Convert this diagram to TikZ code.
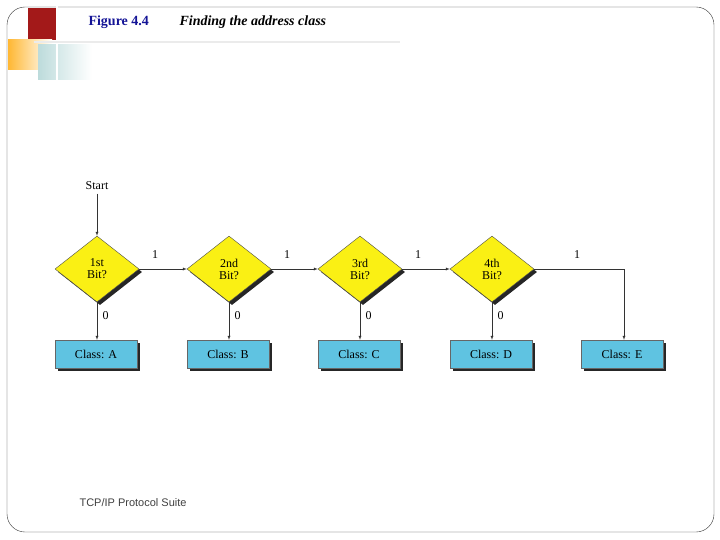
\documentclass[tikz,border=0pt]{standalone}
\usepackage{fontspec}
\setmainfont{Liberation Serif}
\setsansfont{Liberation Sans}
\usetikzlibrary{shapes.geometric,shadows}
\definecolor{bitfill}{RGB}{250,240,20}
\definecolor{classfill}{RGB}{95,195,225}
\definecolor{titleblue}{RGB}{20,20,150}
\tikzset{
  bit/.style={diamond, draw=black!70, fill=bitfill, minimum width=84pt, minimum height=66pt,
    inner sep=0pt, align=center, font=\fontsize{12}{12}\selectfont, drop shadow={shadow xshift=3pt, shadow yshift=-3pt, fill=black!85, opacity=1}},
  cls/.style={rectangle, draw=black!60, fill=classfill, minimum width=82pt, minimum height=28pt,
    inner sep=0pt, font=\fontsize{12}{12}\selectfont, drop shadow={shadow xshift=3pt, shadow yshift=-3pt, fill=black!85, opacity=1}},
  flow/.style={draw=black!80, -latex},
  lbl/.style={font=\fontsize{12}{12}\selectfont}
}
\begin{document}
\begin{tikzpicture}[x=1pt,y=-1pt]
  \useasboundingbox (0,0) rectangle (720,540);
  % frame and corner decoration
  \draw[black!80, rounded corners=18pt] (7,7) rectangle (714,532);
  \fill[red!60!black!90] (28,8) rectangle (56,40);
  \shade[left color=orange!70!yellow!80, right color=white] (8,40) rectangle (52,70);
  \shade[left color=gray!70!cyan!40, right color=white] (38,45) rectangle (92,80);
  \draw[white, line width=2pt] (57,0) -- (57,82);
  \draw[black!8, line width=2pt] (34,42) -- (400,42);
  \node[anchor=west, text=titleblue, font=\bfseries\fontsize{14}{14}\selectfont] (fig) at (85,22) {Figure 4.4};
  \node[anchor=west, font=\bfseries\itshape\fontsize{14}{14}\selectfont] (title) at (176,22) {Finding the address class};
  \node[anchor=west, font=\sffamily\fontsize{11}{11}\selectfont, text=black!75] (foot) at (76,503) {TCP/IP Protocol Suite};

  % flow chart
  \node[lbl] (start) at (97,186) {Start};
  \node[bit] (b1) at (97,269) {1st\\Bit?};
  \node[bit] (b2) at (229,269) {2nd\\Bit?};
  \node[bit] (b3) at (360,269) {3rd\\Bit?};
  \node[bit] (b4) at (492,269) {4th\\Bit?};
  \node[cls] (ca) at (96,354) {Class: A};
  \node[cls] (cb) at (228,354) {Class: B};
  \node[cls] (cc) at (359,354) {Class: C};
  \node[cls] (cd) at (491,354) {Class: D};
  \node[cls] (ce) at (622,354) {Class: E};
  \coordinate (turn) at (624,269);

  \draw[flow] (start) -- (b1);
  \foreach \a/\b in {b1/b2, b2/b3, b3/b4}
    \draw[flow] (\a) -- (\b);
  \foreach \x in {155,287,418,577}
    \node[lbl] at (\x,255) {1};
  \draw[flow] (b4.east) -- (turn) -- (turn |- ce.north);
  \foreach \d/\c in {b1/ca, b2/cb, b3/cc, b4/cd}
    \draw[flow] (\d.south) -- node[lbl, right=2pt, pos=0.35] {0} (\d.south |- \c.north);
\end{tikzpicture}
\end{document}
